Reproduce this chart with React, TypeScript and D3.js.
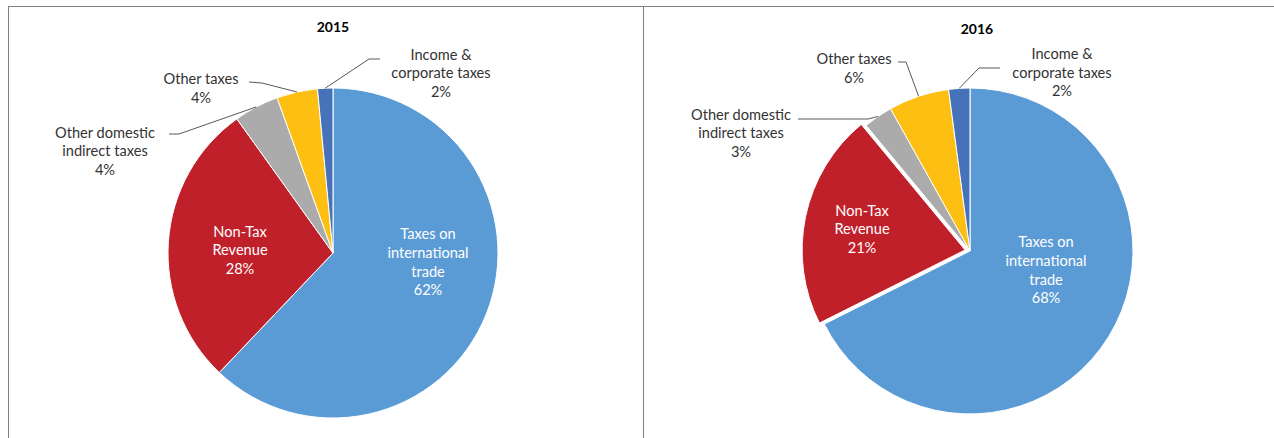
import React from "react";
import * as d3 from "d3";

const categories = [
  "Taxes on international trade",
  "Non-Tax Revenue",
  "Other domestic indirect taxes",
  "Other taxes",
  "Income & corporate taxes",
];
const labelLines = [
  ["Taxes on", "international", "trade"],
  ["Non-Tax", "Revenue"],
  ["Other domestic", "indirect taxes"],
  ["Other taxes"],
  ["Income &", "corporate taxes"],
];
const values2015 = [62.1, 28.0, 4.4, 4.0, 1.5];
const values2016 = [67.6, 21.4, 2.9, 6.0, 2.1];
const years = ["2015", "2016"];
const colors = ["#5B9BD5", "#C0202A", "#ABABAB", "#FCBF12", "#4672BA"];

type Layout = {
  cx: number;
  cy: number;
  r: number;
  titleX: number;
  titleY: number;
  explode: number[];
  labels: { x: number; y: number; inside: boolean; leader?: [number, number][] }[];
};

const layouts: Layout[] = [
  {
    cx: 333,
    cy: 253,
    r: 165,
    titleX: 333,
    titleY: 27,
    explode: [0, 0, 0, 0, 0],
    labels: [
      { x: 428, y: 262, inside: true },
      { x: 240, y: 250, inside: true },
      { x: 105, y: 151, inside: false, leader: [[169, 134], [179, 134]] },
      { x: 201, y: 88.5, inside: false, leader: [[249, 82], [262, 83]] },
      { x: 441, y: 73, inside: false, leader: [[380, 59], [369, 59]] },
    ],
  },
  {
    cx: 970,
    cy: 251,
    r: 163,
    titleX: 977,
    titleY: 29,
    explode: [0, 5, 0, 0, 0],
    labels: [
      { x: 1046, y: 270, inside: true },
      { x: 862, y: 229, inside: true },
      { x: 741, y: 133, inside: false, leader: [[798, 119], [868, 119]] },
      { x: 854, y: 68, inside: false, leader: [[898, 62], [906, 62]] },
      { x: 1062, y: 72.5, inside: false, leader: [[1000, 68], [979, 68]] },
    ],
  },
];

const FONT = "Lato, 'Open Sans', sans-serif";
const LH = 18.7;
const FS = 14.6;

function PieChart({ values, year, layout }: { values: number[]; year: string; layout: Layout }) {
  const pie = d3
    .pie<number>()
    .sort(null)
    .value((d) => d)
    .startAngle(0)
    .endAngle(2 * Math.PI);
  const arcs = pie(values);
  const arc = d3.arc<d3.PieArcDatum<number>>().innerRadius(0).outerRadius(layout.r);
  const edge = d3.arc<d3.PieArcDatum<number>>().innerRadius(layout.r).outerRadius(layout.r);
  return (
    <g>
      <text
        x={layout.titleX}
        y={layout.titleY + 5}
        textAnchor="middle"
        fontFamily={FONT}
        fontWeight="bold"
        fontSize={14}
        fill="#000"
      >
        {year}
      </text>
      <g transform={`translate(${layout.cx},${layout.cy})`}>
        {arcs.map((a, i) => {
          const mid = (a.startAngle + a.endAngle) / 2;
          const e = layout.explode[i];
          const dx = e * Math.sin(mid);
          const dy = -e * Math.cos(mid);
          return (
            <path
              key={categories[i]}
              d={arc(a) || ""}
              transform={`translate(${dx},${dy})`}
              fill={colors[i]}
              stroke="#fff"
              strokeWidth={1}
            />
          );
        })}
      </g>
      {arcs.map((a, i) => {
        const lab = layout.labels[i];
        const lines = [...labelLines[i], `${Math.round(values[i])}%`];
        const n = lines.length;
        const top = lab.y - ((n - 1) * LH) / 2;
        let leader = null;
        if (lab.leader) {
          const [px, py] = edge.centroid(a);
          const pts = [...lab.leader, [layout.cx + px, layout.cy + py]];
          leader = (
            <path
              d={d3.line()(pts as [number, number][]) || ""}
              fill="none"
              stroke="#595959"
              strokeWidth={1}
            />
          );
        }
        return (
          <g key={"l" + i}>
            {leader}
            <text
              textAnchor="middle"
              fontFamily={FONT}
              fontSize={FS}
              fill={lab.inside ? "#fff" : "#333"}
            >
              {lines.map((t, j) => (
                <tspan key={j} x={lab.x} y={top + j * LH + 5.2}>
                  {t}
                </tspan>
              ))}
            </text>
          </g>
        );
      })}
    </g>
  );
}

export default function App() {
  const data = [values2015, values2016];
  return (
    <svg
      width={1274}
      height={438}
      style={{ position: "absolute", left: 0, top: 0, display: "block" }}
    >
      <rect x={0} y={0} width={1274} height={438} fill="#fff" />
      <rect x={8.5} y={6.5} width={635} height={500} fill="none" stroke="#808080" strokeWidth={1} />
      <rect x={643.5} y={6.5} width={700} height={500} fill="none" stroke="#808080" strokeWidth={1} />
      {years.map((y, i) => (
        <PieChart key={y} values={data[i]} year={y} layout={layouts[i]} />
      ))}
    </svg>
  );
}
